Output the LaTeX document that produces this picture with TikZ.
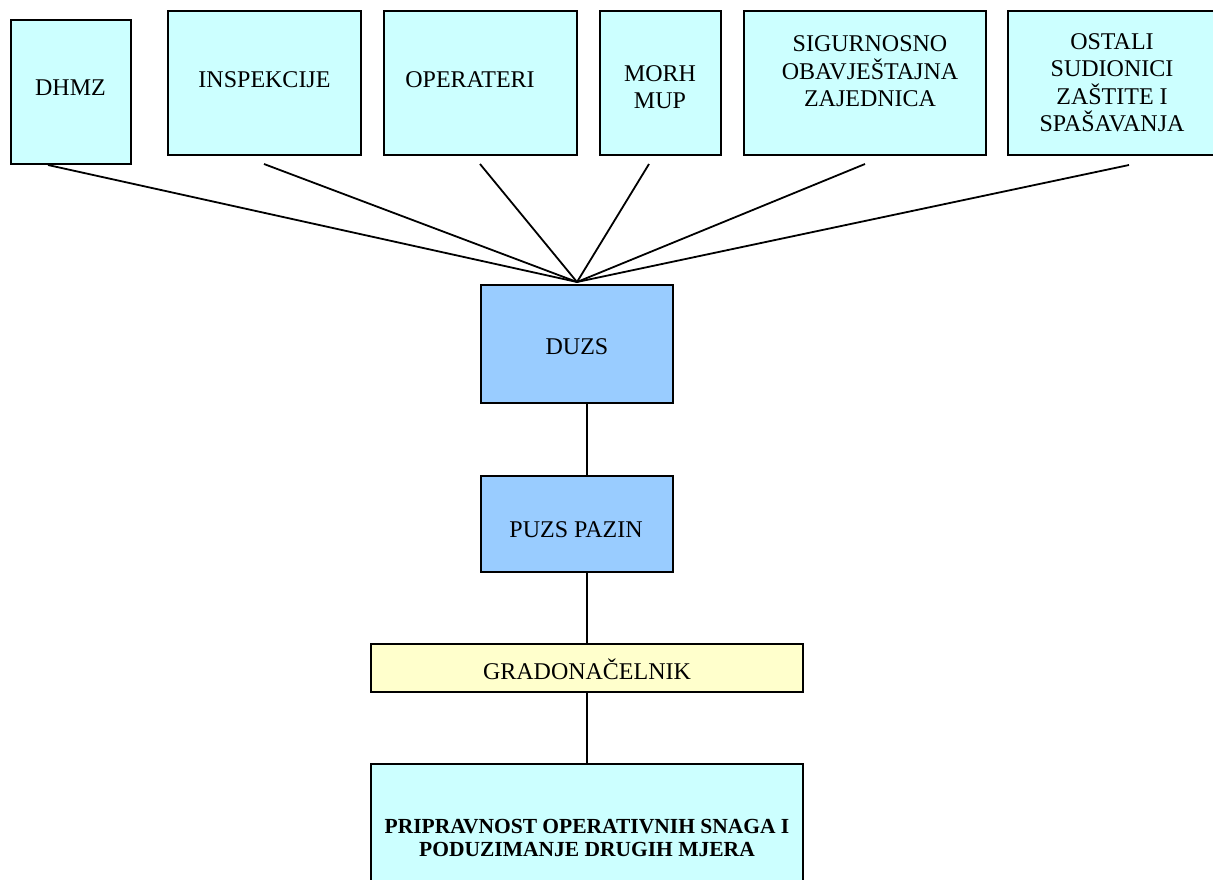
\documentclass[tikz,border=0pt]{standalone}
\usepackage{fontspec}
\setmainfont{Liberation Serif}
\definecolor{cyanbox}{HTML}{CCFFFF}
\definecolor{bluebox}{HTML}{99CCFF}
\definecolor{yellowbox}{HTML}{FFFFCC}
\begin{document}
\begin{tikzpicture}[x=1pt,y=-1pt,
  box/.style={draw=black, line width=2pt, fill=cyanbox, inner sep=0pt},
  lbl/.style={font=\fontsize{24}{27.5}\selectfont, align=center, inner sep=0pt},
  blbl/.style={font=\fontsize{21.5}{22.5}\selectfont\bfseries, align=center, inner sep=0pt},
  conn/.style={line width=1.8pt}]
\useasboundingbox (0,0) rectangle (1213,879);
\clip (0,0) rectangle (1213,879);
% top boxes
\node[box, minimum width=120, minimum height=144] (dhmz) at (71,92) {};
\node[box, minimum width=193, minimum height=144] (insp) at (264.5,83) {};
\node[box, minimum width=193, minimum height=144] (oper) at (480.5,83) {};
\node[box, minimum width=121, minimum height=144] (morh) at (660.5,83) {};
\node[box, minimum width=242, minimum height=144] (sig) at (865,83) {};
\node[box, minimum width=207, minimum height=144] (ost) at (1111.5,83) {};
% middle chain
\node[box, fill=bluebox, minimum width=192, minimum height=118] (duzs) at (577,344) {};
\node[box, fill=bluebox, minimum width=192, minimum height=96] (puzs) at (577,524) {};
\node[box, fill=yellowbox, minimum width=432, minimum height=48] (grad) at (587,668) {};
\node[box, minimum width=432, minimum height=126] (prip) at (587,827) {};
% texts
\node[lbl] (tdhmz) at (70.5,88) {DHMZ};
\node[lbl] (tinsp) at (264.5,80) {INSPEKCIJE};
\node[lbl] (toper) at (470,80) {OPERATERI};
\node[lbl] (tmorh) at (660,87) {MORH\\MUP};
\node[lbl] (tsig) at (870,71.5) {SIGURNOSNO\\OBAVJEŠTAJNA\\ZAJEDNICA};
\node[lbl] (tost) at (1112,82.5) {OSTALI\\SUDIONICI\\ZAŠTITE I\\SPAŠAVANJA};
\node[lbl] (tduzs) at (577,347) {DUZS};
\node[lbl] (tpuzs) at (576,530) {PUZS PAZIN};
\node[lbl] (tgrad) at (587,669) {GRADONAČELNIK};
\node[blbl] (tprip) at (587,838) {PRIPRAVNOST OPERATIVNIH SNAGA I\\PODUZIMANJE DRUGIH MJERA};
% connector start points
\coordinate (c1) at (48,165);
\coordinate (c2) at (264,164);
\coordinate (c3) at (480,164);
\coordinate (c4) at (649,164);
\coordinate (c5) at (865,164);
\coordinate (c6) at (1129,165);
\foreach \c in {c1,c2,c3,c4,c5,c6}
  \draw[conn] (\c) -- ([yshift=2pt]duzs.north);
\draw[conn] ([xshift=10pt]duzs.south) -- ([xshift=10pt]puzs.north);
\draw[conn] ([xshift=10pt]puzs.south) -- (grad.north);
\draw[conn] (grad.south) -- (prip.north);
\end{tikzpicture}
\end{document}
